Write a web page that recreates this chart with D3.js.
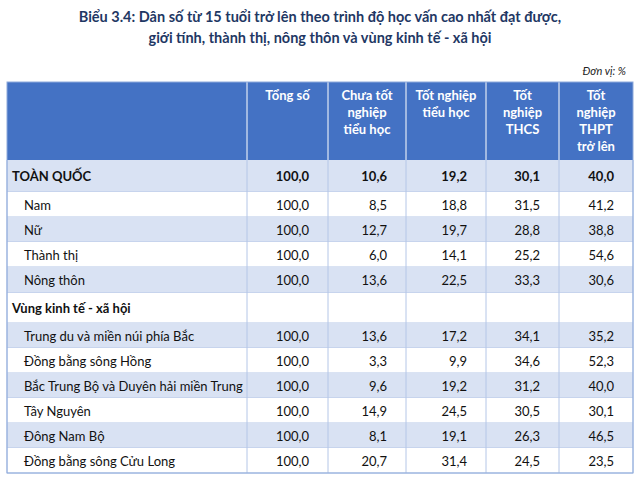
<!DOCTYPE html>
<html><head><meta charset="utf-8">
<script src="https://cdn.jsdelivr.net/npm/d3@7"></script>
<style>body{margin:0;background:#fff;font-family:Lato,"Open Sans",sans-serif;}</style>
</head><body><div id="chart"></div>
<script>
var titleLines = ['Biểu 3.4: Dân số từ 15 tuổi trở lên theo trình độ học vấn cao nhất đạt được,',
                  'giới tính, thành thị, nông thôn và vùng kinh tế - xã hội'];
var headers = [['Tổng số'], ['Chưa tốt', 'nghiệp', 'tiểu học'], ['Tốt nghiệp', 'tiểu học'],
               ['Tốt', 'nghiệp', 'THCS'], ['Tốt', 'nghiệp', 'THPT', 'trở lên']];
var rowLabels = ['TOÀN QUỐC', 'Nam', 'Nữ', 'Thành thị', 'Nông thôn', 'Vùng kinh tế - xã hội',
                 'Trung du và miền núi phía Bắc', 'Đồng bằng sông Hồng', 'Bắc Trung Bộ và Duyên hải miền Trung',
                 'Tây Nguyên', 'Đông Nam Bộ', 'Đồng bằng sông Cửu Long'];
var values = [
    ['100,0', '10,6', '19,2', '30,1', '40,0'],
    ['100,0', '8,5', '18,8', '31,5', '41,2'],
    ['100,0', '12,7', '19,7', '28,8', '38,8'],
    ['100,0', '6,0', '14,1', '25,2', '54,6'],
    ['100,0', '13,6', '22,5', '33,3', '30,6'],
    null,
    ['100,0', '13,6', '17,2', '34,1', '35,2'],
    ['100,0', '3,3', '9,9', '34,6', '52,3'],
    ['100,0', '9,6', '19,2', '31,2', '40,0'],
    ['100,0', '14,9', '24,5', '30,5', '30,1'],
    ['100,0', '8,1', '19,1', '26,3', '46,5'],
    ['100,0', '20,7', '31,4', '24,5', '23,5']
];
var rowHeights = [32, 25, 25, 25, 26, 30, 25, 25, 25, 25, 25, 25];
var shaded = [true, false, true, false, true, false, true, false, true, false, true, false];
var colEdges = [7, 247, 328, 406, 486, 559, 633];

function drawTable() {
    var svg = d3.select('#chart').append('svg').attr('width', 640).attr('height', 483);

    // title
    svg.selectAll('text.title').data(titleLines).enter().append('text')
        .attr('x', 320).attr('y', function(d, i) { return 22 + i * 21; })
        .attr('text-anchor', 'middle').style('font-size', '14.5px').style('font-weight', 'bold')
        .attr('fill', '#1f3864').text(function(d) { return d; });

    svg.append('text').attr('x', 626).attr('y', 75).attr('text-anchor', 'end')
        .style('font-size', '11px').style('font-style', 'italic').attr('fill', '#222').text('Đơn vị: %');

    var tableTop = 82, headH = 78;
    var x = d3.scaleOrdinal().domain(d3.range(7)).range(colEdges);

    // header
    svg.append('rect').attr('x', 7).attr('y', tableTop).attr('width', 626).attr('height', headH).attr('fill', '#4472c4');
    headers.forEach(function(lines, c) {
        var cx = (x(c + 1) + x(c + 2)) / 2;
        svg.append('text').attr('x', cx).attr('y', tableTop + 18).attr('text-anchor', 'middle')
            .style('font-size', '13px').style('font-weight', 'bold').attr('fill', '#fff')
            .selectAll('tspan').data(lines).enter().append('tspan')
            .attr('x', cx).attr('dy', function(d, i) { return i ? 17 : 0; }).text(function(d) { return d; });
    });

    // body rows
    var y0 = tableTop + headH;
    var rowTops = [];
    rowHeights.forEach(function(h) { rowTops.push(y0); y0 += h; });

    var g = svg.append('g');
    rowLabels.forEach(function(lab, r) {
        var ry = rowTops[r], h = rowHeights[r];
        g.append('rect').attr('x', 7).attr('y', ry).attr('width', 626).attr('height', h)
            .attr('fill', shaded[r] ? '#d9e2f3' : '#fff');
        var bold = (r === 0 || r === 5);
        var ty = ry + h / 2 + 5;
        g.append('text').attr('x', bold ? 12 : 24).attr('y', ty)
            .style('font-size', '13px').style('font-weight', bold ? 'bold' : 'normal')
            .attr('fill', '#111').text(lab);
        if (values[r]) {
            values[r].forEach(function(v, c) {
                g.append('text').attr('x', x(c + 2) - 19).attr('y', ty).attr('text-anchor', 'end')
                    .style('font-size', '13px').style('font-weight', bold ? 'bold' : 'normal')
                    .attr('fill', '#111').text(v);
            });
        }
        g.append('line').attr('x1', 7).attr('x2', 633).attr('y1', ry + h).attr('y2', ry + h)
            .attr('stroke', '#b4c6e7').attr('stroke-width', 1);
    });

    // grid
    colEdges.forEach(function(cx) {
        svg.append('line').attr('x1', cx).attr('x2', cx).attr('y1', tableTop + headH)
            .attr('y2', y0).attr('stroke', '#b4c6e7').attr('stroke-width', 1);
    });
    colEdges.slice(1, 6).forEach(function(cx) {
        svg.append('line').attr('x1', cx).attr('x2', cx).attr('y1', tableTop).attr('y2', tableTop + headH)
            .attr('stroke', '#ffffff').attr('stroke-width', 1);
    });
    svg.append('rect').attr('x', 7).attr('y', tableTop).attr('width', 626).attr('height', y0 - tableTop)
        .attr('fill', 'none').attr('stroke', '#8eaadb');
}

drawTable();
</script></body></html>
